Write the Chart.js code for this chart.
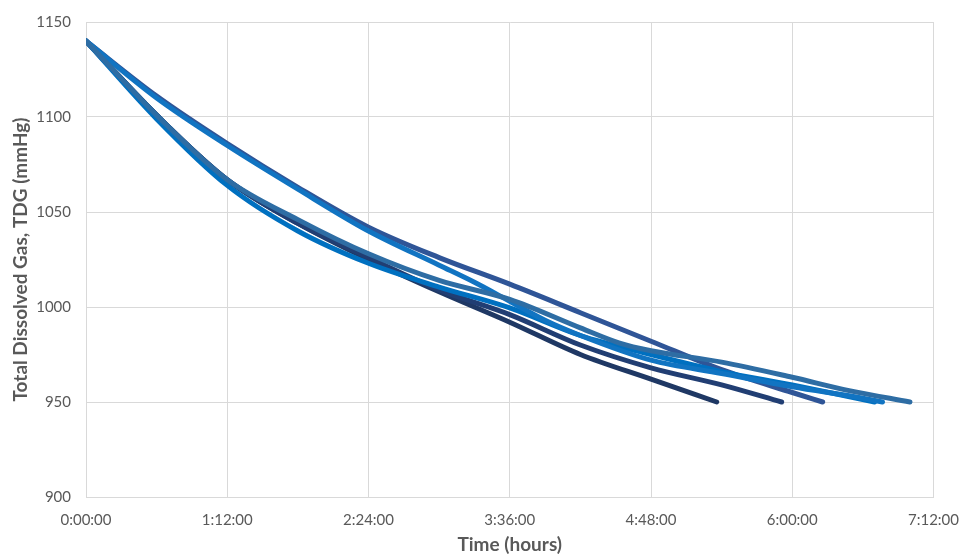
<!DOCTYPE html>
<html>
<head>
<meta charset="utf-8">
<script src="https://cdn.jsdelivr.net/npm/chart.js@4"></script>
<style>
  html, body { margin: 0; padding: 0; background: #fff; }
  #wrap { width: 961px; height: 557px; }
</style>
</head>
<body>
<div id="wrap"><canvas id="tdgChart" width="961" height="557"></canvas></div>
<script>
// time in minutes, TDG in mmHg
const timeA = [0, 36, 72, 108, 144, 180, 216, 252, 288, 321.5];
const tdgA  = [1140, 1101, 1067, 1044, 1025, 1008, 992, 975, 962, 950];

const timeB = [0, 36, 72, 108, 144, 180, 216, 252, 288, 324, 354.6];
const tdgB  = [1140, 1101, 1067, 1044, 1026, 1009, 996, 980, 968, 959, 950];

const timeC = [0, 36, 72, 108, 144, 180, 216, 252, 288, 324, 360, 375.5];
const tdgC  = [1140, 1111, 1086, 1063, 1042, 1026, 1012, 997, 982, 967, 955, 950];

const timeD = [0, 36, 72, 108, 144, 180, 216, 252, 288, 324, 360, 402];
const tdgD  = [1140, 1099, 1064, 1040, 1023, 1010.5, 999.5, 985, 975, 966, 959, 950];

const timeE = [0, 36, 72, 108, 144, 180, 198, 216, 234, 252, 288, 324, 360, 396, 406];
const tdgE  = [1140, 1110, 1085, 1062, 1040, 1022, 1013, 1003, 993, 985, 972, 965, 958, 952, 950];

const timeF = [0, 36, 72, 108, 144, 180, 216, 252, 272, 288, 324, 360, 389, 420];
const tdgF  = [1140, 1101, 1067, 1046, 1028, 1014, 1004, 989, 981, 977, 971, 963, 956, 950];

const xTicks = [0, 72, 144, 216, 288, 360, 432];
const yTicks = [900, 950, 1000, 1050, 1100, 1150];

function toPoints(times, vals) {
    return times.map((t, i) => ({ x: t, y: vals[i] }));
}

function fmtTime(min) {
    const h = Math.floor(min / 60);
    const m = Math.round(min % 60);
    return h + ':' + String(m).padStart(2, '0') + ':00';
}

const seriesList = [
    { pts: toPoints(timeF, tdgF), color: '#2E6DA4' },
    { pts: toPoints(timeE, tdgE), color: '#1174C2' },
    { pts: toPoints(timeD, tdgD), color: '#0070C0' },
    { pts: toPoints(timeC, tdgC), color: '#2F5597' },
    { pts: toPoints(timeB, tdgB), color: '#213E73' },
    { pts: toPoints(timeA, tdgA), color: '#1F3864' }
];

const ctx = document.getElementById('tdgChart').getContext('2d');
const tdgChart = new Chart(ctx, {
    type: 'line',
    data: {
        datasets: seriesList.map(s => ({
            data: s.pts,
            borderColor: s.color,
            backgroundColor: s.color,
            borderWidth: 5,
            borderCapStyle: 'round',
            pointRadius: 0,
            fill: false,
            cubicInterpolationMode: 'monotone'
        }))
    },
    options: {
        responsive: false,
        animation: false,
        layout: { padding: { left: 0, right: 27, top: 22, bottom: 0 } },
        plugins: { legend: { display: false }, tooltip: { enabled: false } },
        scales: {
            x: {
                type: 'linear',
                min: 0,
                max: 432,
                afterBuildTicks: scale => { scale.ticks = xTicks.map(v => ({ value: v })); },
                afterFit: scale => { scale.height = 60; },
                grid: { color: '#d9d9d9', drawTicks: true, tickLength: 12, tickColor: 'rgba(0,0,0,0)' },
                border: { color: '#d9d9d9' },
                ticks: {
                    padding: 2,
                    color: '#595959',
                    font: { family: 'Lato', size: 15 },
                    maxRotation: 0,
                    callback: v => fmtTime(v)
                },
                title: {
                    display: true,
                    text: 'Time (hours)',
                    color: '#595959',
                    font: { family: 'Lato', size: 19, weight: 'bold' },
                    padding: { top: 6, bottom: 1 }
                }
            },
            y: {
                min: 900,
                max: 1150,
                afterBuildTicks: scale => { scale.ticks = yTicks.map(v => ({ value: v })); },
                afterFit: scale => { scale.width = 86; },
                grid: { color: '#d9d9d9', drawTicks: true, tickLength: 13, tickColor: 'rgba(0,0,0,0)' },
                border: { color: '#d9d9d9' },
                ticks: {
                    padding: 2,
                    color: '#595959',
                    font: { family: 'Lato', size: 15 },
                    callback: v => String(v)
                },
                title: {
                    display: true,
                    text: 'Total Dissolved Gas, TDG (mmHg)',
                    color: '#595959',
                    font: { family: 'Lato', size: 19, weight: 'bold' },
                    padding: { top: 9, bottom: 0 }
                }
            }
        }
    }
});
</script>
</body>
</html>
